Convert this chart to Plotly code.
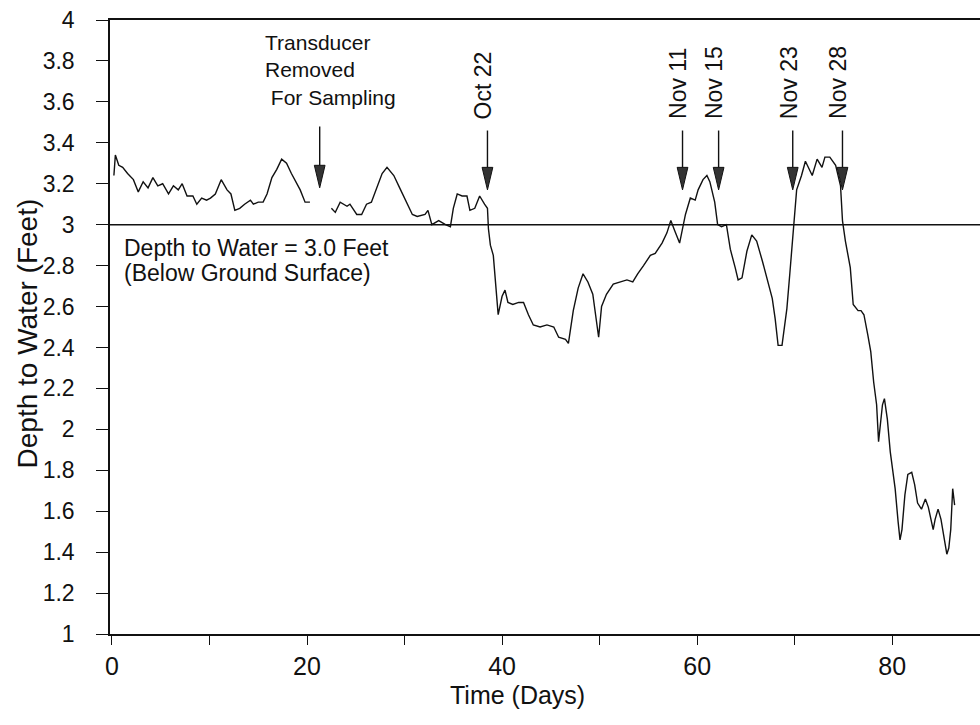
import plotly.graph_objects as go

# ---- data ----
days = [0.2, 0.35, 0.7, 1.1, 1.6, 2.2, 2.7, 3.2, 3.7, 4.2, 4.7, 5.2, 5.8, 6.3, 6.8, 7.2, 7.7,
        8.3, 8.7, 9.2, 9.7, 10.1, 10.6, 11.2, 11.8, 12.2, 12.6, 13.1, 13.6, 14.2, 14.5, 15.0,
        15.5, 15.9, 16.4, 16.9, 17.4, 17.9, 18.4, 19.0, 19.3, 19.8, 20.3,
        21.4,
        22.5, 22.9, 23.4, 24.1, 24.4, 25.1, 25.6, 26.1, 26.6, 27.2, 27.7, 28.2, 28.9, 29.5,
        30.2, 30.8, 31.3, 32.1, 32.4, 32.8, 33.5, 34.2, 34.7, 35.0, 35.4, 35.9, 36.4, 36.7,
        37.2, 37.7, 38.2, 38.5, 38.6, 38.8, 39.1, 39.4, 39.6, 40.0, 40.3, 40.6, 41.1, 41.7,
        42.2, 42.7, 43.2, 43.9, 44.6, 45.3, 45.8, 46.5, 46.8, 47.3, 47.8, 48.3, 48.8, 49.3,
        49.7, 49.9, 50.2, 50.7, 51.4, 52.1, 52.8, 53.4, 53.9, 54.5, 55.2, 55.7, 56.4, 56.9,
        57.3, 57.7, 58.2, 58.8, 59.3, 59.8, 60.1, 60.6, 61.0, 61.3, 61.8, 62.1, 62.5, 63.0,
        63.4, 63.9, 64.2, 64.6, 65.1, 65.6, 66.1, 66.7, 67.2, 67.7, 68.0, 68.3, 68.7, 69.2,
        69.5, 69.9, 70.2, 70.7, 71.1, 71.8, 72.3, 72.8, 73.1, 73.6, 74.2, 74.7, 74.9, 75.2,
        75.7, 76.0, 76.5, 76.8, 77.1, 77.5, 77.8, 78.1, 78.4, 78.6, 79.0, 79.2, 79.5, 79.8,
        80.3, 80.6, 80.8, 81.0, 81.3, 81.6, 82.0, 82.3, 82.6, 83.0, 83.4, 83.7, 84.2, 84.4,
        84.7, 85.0, 85.3, 85.6, 85.8, 86.0, 86.2, 86.4]
depth = [3.24, 3.34, 3.29, 3.28, 3.25, 3.22, 3.16, 3.21, 3.18, 3.23, 3.19, 3.20, 3.15, 3.19,
         3.17, 3.20, 3.14, 3.14, 3.10, 3.13, 3.12, 3.13, 3.15, 3.22, 3.17, 3.15, 3.07, 3.08,
         3.10, 3.12, 3.10, 3.11, 3.11, 3.15, 3.23, 3.27, 3.32, 3.30, 3.25, 3.20, 3.17, 3.11, 3.11,
         None,
         3.08, 3.06, 3.11, 3.09, 3.10, 3.05, 3.05, 3.10, 3.11, 3.19, 3.25, 3.28, 3.24, 3.18,
         3.11, 3.05, 3.04, 3.05, 3.07, 3.00, 3.02, 3.00, 2.99, 3.08, 3.15, 3.14, 3.14, 3.07,
         3.08, 3.14, 3.10, 3.08, 2.98, 2.90, 2.85, 2.69, 2.56, 2.65, 2.68, 2.62, 2.61, 2.62,
         2.62, 2.56, 2.51, 2.50, 2.51, 2.50, 2.45, 2.44, 2.42, 2.58, 2.69, 2.76, 2.72, 2.66,
         2.53, 2.45, 2.60, 2.66, 2.71, 2.72, 2.73, 2.72, 2.76, 2.80, 2.85, 2.86, 2.91, 2.96,
         3.02, 2.97, 2.91, 3.05, 3.13, 3.12, 3.17, 3.22, 3.24, 3.21, 3.11, 3.00, 2.99, 3.00,
         2.88, 2.79, 2.73, 2.74, 2.87, 2.95, 2.92, 2.82, 2.73, 2.64, 2.54, 2.41, 2.41, 2.59,
         2.76, 3.00, 3.17, 3.24, 3.31, 3.24, 3.32, 3.28, 3.33, 3.33, 3.29, 3.19, 3.02, 2.92,
         2.79, 2.61, 2.58, 2.58, 2.56, 2.46, 2.38, 2.23, 2.12, 1.94, 2.12, 2.15, 2.05, 1.89,
         1.71, 1.55, 1.46, 1.51, 1.68, 1.78, 1.79, 1.73, 1.64, 1.61, 1.66, 1.62, 1.51, 1.56,
         1.61, 1.56, 1.48, 1.39, 1.42, 1.51, 1.71, 1.63]

x_tick_vals = [0, 10, 20, 30, 40, 50, 60, 70, 80]
x_tick_text = ["0", "", "20", "", "40", "", "60", "", "80"]
y_tick_vals = [1, 1.2, 1.4, 1.6, 1.8, 2, 2.2, 2.4, 2.6, 2.8, 3, 3.2, 3.4, 3.6, 3.8, 4]
y_tick_text = ["1", "1.2", "1.4", "1.6", "1.8", "2", "2.2", "2.4", "2.6", "2.8", "3",
               "3.2", "3.4", "3.6", "3.8", "4"]

event_labels = ["Oct 22", "Nov 11", "Nov 15", "Nov 23", "Nov 28"]
event_days = [38.5, 58.5, 62.2, 69.8, 74.9]
removal_day = 21.3
removal_note = "Transducer<br>Removed<br>&nbsp;For Sampling"
threshold = 3.0

FONT = "Liberation Sans, Arial, Helvetica, sans-serif"
INK = "#111111"

fig = go.Figure()
fig.add_trace(go.Scatter(x=days, y=depth, mode="lines",
                         line=dict(color=INK, width=1.4),
                         connectgaps=False, hoverinfo="skip", showlegend=False))

shapes = []
annotations = []

# threshold line
shapes.append(dict(type="line", xref="paper", yref="y", x0=0, x1=1, y0=threshold, y1=threshold,
                   line=dict(color=INK, width=1.5)))

# arrows (shaft + filled head)
def arrow(xd, top, tip):
    head_len = 0.11
    half_w = 0.55
    shapes.append(dict(type="line", xref="x", yref="y", x0=xd, x1=xd, y0=top, y1=tip + head_len,
                       line=dict(color=INK, width=1.4)))
    shapes.append(dict(type="path", xref="x", yref="y",
                       path=f"M {xd - half_w},{tip + head_len} L {xd + half_w},{tip + head_len} L {xd},{tip} Z",
                       fillcolor="#333333", line=dict(color=INK, width=1)))

arrow(removal_day, 3.48, 3.18)
for lab, d in zip(event_labels, event_days):
    arrow(d, 3.46, 3.17)
    annotations.append(dict(x=d - 0.45, y=3.505, xref="x", yref="y", text=lab, textangle=-90,
                            showarrow=False, xanchor="center", yanchor="bottom",
                            font=dict(family=FONT, size=23, color=INK)))

# removal note (one multi-line text)
annotations.append(dict(x=15.5, y=3.755, xref="x", yref="y", text=removal_note, showarrow=False,
                        xanchor="left", yanchor="middle", align="left",
                        font=dict(family=FONT, size=21, color=INK)))

# threshold note
annotations.append(dict(x=1.0, y=2.885, xref="x", yref="y", text="Depth to Water = 3.0 Feet",
                        showarrow=False, xanchor="left", yanchor="middle",
                        font=dict(family=FONT, size=23, color=INK)))
annotations.append(dict(x=1.0, y=2.765, xref="x", yref="y", text="(Below Ground Surface)",
                        showarrow=False, xanchor="left", yanchor="middle",
                        font=dict(family=FONT, size=23, color=INK)))

# axis titles
annotations.append(dict(x=-0.095, y=0.49, xref="paper", yref="paper", text="Depth to Water (Feet)",
                        textangle=-90, showarrow=False, xanchor="center", yanchor="middle",
                        font=dict(family=FONT, size=28, color=INK)))
annotations.append(dict(x=0.468, y=-0.1, xref="paper", yref="paper", text="Time (Days)",
                        showarrow=False, xanchor="center", yanchor="middle",
                        font=dict(family=FONT, size=25, color=INK)))

fig.update_layout(
    width=980, height=725,
    margin=dict(l=110, r=0, t=20, b=91),
    paper_bgcolor="white", plot_bgcolor="white",
    shapes=shapes, annotations=annotations,
    showlegend=False,
    font=dict(family=FONT, color=INK),
)
fig.update_xaxes(range=[-0.2, 89.0], showgrid=False, zeroline=False,
                 showline=True, linecolor=INK, linewidth=1.5, mirror=True,
                 ticks="outside", ticklen=9, tickwidth=1.2, tickcolor=INK,
                 tickvals=x_tick_vals, ticktext=x_tick_text,
                 tickfont=dict(family=FONT, size=25, color=INK))
fig.update_yaxes(range=[1, 4], showgrid=False, zeroline=False,
                 showline=True, linecolor=INK, linewidth=1.5,
                 ticks="outside", ticklen=12, tickwidth=1.2, tickcolor=INK,
                 tickvals=y_tick_vals, ticktext=y_tick_text, ticklabelstandoff=17,
                 tickfont=dict(family=FONT, size=23, color=INK))

fig.write_html("out.html")
